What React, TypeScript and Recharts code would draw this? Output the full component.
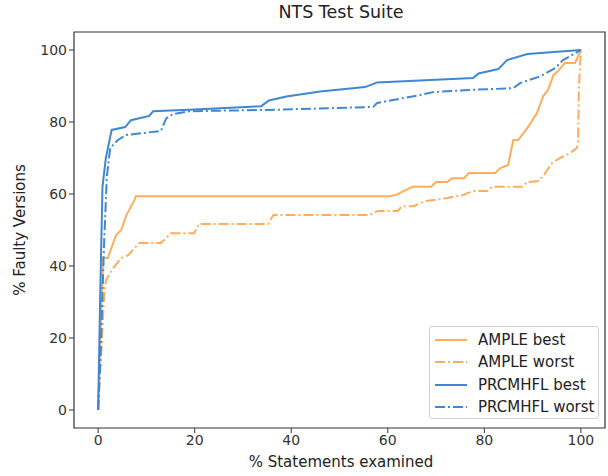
import React from 'react';
import { LineChart, Line, XAxis, YAxis, ReferenceArea } from 'recharts';

// values (x = % statements examined, y = % faulty versions)
const ampleBestX = [0, 0.6, 1, 2, 3.7, 4.8, 5.8, 7.5, 7.8, 60.5, 62, 63.2, 65.2, 69, 70, 72.3, 73.3, 75.8, 76.8, 82.2, 83.3, 84.9, 86, 87, 88.9, 90.9, 92.2, 93.2, 94.3, 95.3, 96.7, 98.8, 100];
const ampleBestY = [0, 25, 42.2, 42.2, 48.6, 50, 54, 58.3, 59.4, 59.4, 59.9, 60.8, 62, 62, 63.3, 63.3, 64.4, 64.4, 65.8, 65.8, 67.2, 68, 75, 75, 78.3, 82.5, 87.2, 88.9, 93, 94.2, 96.4, 96.4, 100];

const ampleWorstX = [0, 0.8, 1.2, 1.6, 3.1, 4.8, 6.2, 8.5, 13, 15.1, 19.9, 20.9, 35.2, 36.3, 56.3, 58, 62, 63, 65.3, 67.7, 72.3, 75.6, 77.5, 80.6, 81.6, 87.8, 88.9, 91.2, 92.2, 94, 95.7, 97.8, 99.2, 99.4, 99.6, 100];
const ampleWorstY = [0, 20, 30.5, 36, 39.4, 42.2, 43, 46.4, 46.4, 49.1, 49.1, 51.7, 51.7, 54.2, 54.2, 55.3, 55.3, 56.6, 56.6, 58, 58.9, 59.7, 60.8, 60.8, 62, 62, 63.3, 63.6, 65, 68.6, 70, 71.4, 72.8, 74, 90, 100];

const prcBestX = [0, 0.4, 0.9, 1.6, 2.8, 5.6, 6.8, 10.6, 11.4, 20, 33.8, 35.4, 39, 46, 55.3, 57.8, 77.7, 78.8, 82.9, 84.7, 88.9, 100];
const prcBestY = [0, 30, 62, 70, 77.8, 78.6, 80.5, 81.7, 83, 83.5, 84.4, 86, 87.1, 88.5, 89.7, 91, 92.2, 93.5, 94.7, 97.2, 98.9, 100];

const prcWorstX = [0, 0.5, 1.2, 1.8, 2.5, 4.1, 5.8, 13, 14.1, 15.5, 18.8, 36.9, 57, 57.8, 66.7, 69.4, 77, 86, 87.4, 91.6, 94.7, 96.3, 100];
const prcWorstY = [0, 15, 45, 64.7, 72.8, 75, 76.4, 77.5, 81, 82.2, 83, 83.4, 84.2, 85.3, 87.5, 88.3, 88.9, 89.4, 90.8, 92.7, 95, 97.2, 100];

const ticks = [0, 20, 40, 60, 80, 100];

const ORANGE = '#ffad5c';
const BLUE = '#3f87d2';
const DASH = '10 3 2 3';
const FONT = '"DejaVu Sans", sans-serif';

const toPoints = (xs: number[], ys: number[]) => xs.map((x, i) => ({ x, y: ys[i] }));

const series = [
  { name: 'AMPLE best', data: toPoints(ampleBestX, ampleBestY), color: ORANGE, dash: undefined },
  { name: 'AMPLE worst', data: toPoints(ampleWorstX, ampleWorstY), color: ORANGE, dash: DASH },
  { name: 'PRCMHFL best', data: toPoints(prcBestX, prcBestY), color: BLUE, dash: undefined },
  { name: 'PRCMHFL worst', data: toPoints(prcWorstX, prcWorstY), color: BLUE, dash: DASH },
];

const tickStyle = { fontSize: 14, fill: '#333', fontFamily: FONT };

const App: React.FC = () => {
  return (
    <div style={{ position: 'absolute', left: 0, top: 0, width: 608, height: 476, background: '#fff', fontFamily: FONT }}>
      <div style={{ position: 'absolute', left: 0, width: 608, top: 2, textAlign: 'center', paddingLeft: 74, boxSizing: 'border-box', fontSize: 17.5, color: '#222' }}>
        NTS Test Suite
      </div>
      <LineChart width={608} height={476} margin={{ top: 32, right: 3, bottom: 0, left: 0 }}>
        <XAxis
          type="number"
          dataKey="x"
          domain={[-5, 105]}
          ticks={ticks}
          allowDataOverflow
          height={48}
          axisLine={false}
          tickLine={{ stroke: '#333' }}
          tickSize={5}
          tick={tickStyle}
        />
        <YAxis
          type="number"
          dataKey="y"
          domain={[-5, 105]}
          ticks={ticks}
          allowDataOverflow
          width={74}
          axisLine={false}
          tickLine={{ stroke: '#333' }}
          tickSize={5}
          tick={tickStyle}
        />
        <ReferenceArea x1={-5} x2={105} y1={-5} y2={105} fill="none" stroke="#333" strokeWidth={1.2} ifOverflow="visible" />
        {series.map(s => (
          <Line
            key={s.name}
            data={s.data}
            dataKey="y"
            name={s.name}
            type="linear"
            stroke={s.color}
            strokeWidth={2}
            strokeDasharray={s.dash}
            dot={false}
            activeDot={false}
            isAnimationActive={false}
          />
        ))}
      </LineChart>
      <div style={{ position: 'absolute', left: 0, width: 608, top: 453, textAlign: 'center', paddingLeft: 74, boxSizing: 'border-box', fontSize: 15, color: '#222' }}>
        % Statements examined
      </div>
      <div style={{ position: 'absolute', left: 20, top: 230, transform: 'translate(-50%, -50%) rotate(-90deg)', whiteSpace: 'nowrap', fontSize: 15, color: '#222' }}>
        % Faulty Versions
      </div>
      <div style={{ position: 'absolute', left: 429, top: 326, width: 170, height: 93, border: '1px solid #d0d0d0', borderRadius: 3, background: 'rgba(255,255,255,0.85)', boxSizing: 'border-box' }}>
        {series.map((s, i) => (
          <div key={s.name} style={{ position: 'absolute', left: 5, top: 3 + i * 22.4, height: 20, display: 'flex', alignItems: 'center' }}>
            <svg width={32} height={10}>
              <line x1={0} y1={5} x2={32} y2={5} stroke={s.color} strokeWidth={2} strokeDasharray={s.dash ? '10 3 2 3' : undefined} />
            </svg>
            <span style={{ marginLeft: 11, fontSize: 15, color: '#222' }}>{s.name}</span>
          </div>
        ))}
      </div>
    </div>
  );
};

export default App;
